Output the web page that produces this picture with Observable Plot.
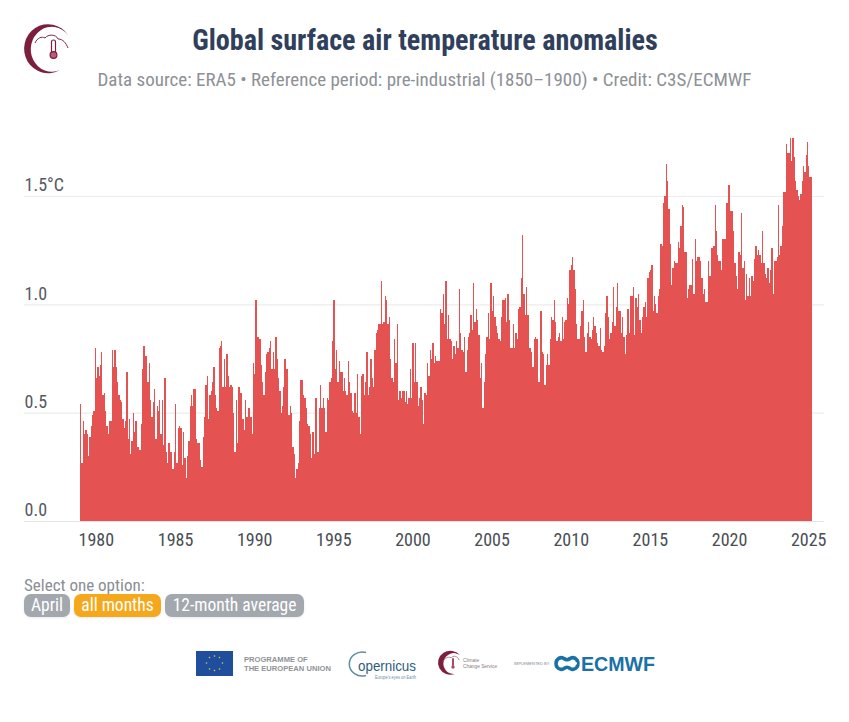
<!DOCTYPE html>
<html><head><meta charset="utf-8">
<script src="https://cdn.jsdelivr.net/npm/d3@7"></script>
<script src="https://cdn.jsdelivr.net/npm/@observablehq/plot@0.6"></script>
<style>
html,body{margin:0;padding:0;background:#fff}
body{width:849px;height:722px;position:relative;overflow:hidden;font-family:Roboto,sans-serif;font-stretch:condensed}
#header{height:110px;position:relative}
#title{position:absolute;left:0;width:849px;top:23px;text-align:center;font-size:29px;font-weight:700;color:#2f3f5c;line-height:34px;white-space:nowrap}
#title span,#sub span{display:inline-block}
#title span{transform:scaleX(.97)}
#sub{position:absolute;left:0;width:849px;top:68px;text-align:center;font-size:19px;color:#8d9196;line-height:24px;white-space:nowrap}
#chart svg{display:block}
#chart text{font-family:Roboto,sans-serif;font-stretch:condensed}
#select{position:absolute;left:24px;top:575px;font-size:17px;color:#8a8e94;line-height:20px;white-space:nowrap}
.btn{position:absolute;top:594px;height:23px;border-radius:7px;background:#a3a7ae;color:#fff;font-size:17.5px;line-height:23px;text-align:center;white-space:nowrap;box-shadow:0 1px 3px rgba(0,0,0,.08)}
.btn.on{background:#f6a81c}
#logo{position:absolute;left:0;top:0;font-stretch:normal}
</style></head>
<body>
<div id="header">
  <div id="title"><span>Global surface air temperature anomalies</span></div>
  <div id="sub"><span>Data source: ERA5 • Reference period: pre-industrial (1850–1900) • Credit: C3S/ECMWF</span></div>
</div>
<div id="chart"></div>
<div id="select">Select one option:</div>
<div class="btn" style="left:24px;width:46px"><span>April</span></div>
<div class="btn on" style="left:74px;width:87px"><span>all months</span></div>
<div class="btn" style="left:165px;width:139px"><span>12-month average</span></div>
<svg id="logo" width="849" height="722" style="pointer-events:none">
  <path d="M68 35 A24 24.5 0 1 0 60 70 A21 22.5 0 1 1 68 35Z" fill="#7d1f3c"/>
  <path d="M35 43 C37 38 42 36 45 38 C48 34 56 34 58 39 C63 39 66 43 68 48" fill="none" stroke="#7d2a44" stroke-width="1"/>
  <rect x="51.5" y="40" width="4" height="14" rx="2" fill="#fff" stroke="#7d1f3c" stroke-width="1.2"/>
  <circle cx="53.5" cy="55" r="3.4" fill="#b85c78" stroke="#7d1f3c" stroke-width="1.2"/>
  <!-- footer logos -->
  <rect x="196" y="651" width="37" height="25" fill="#1f4f9c"/>
  <g fill="#e3c84a"><circle cx="214.5" cy="656" r=".8"/><circle cx="219.5" cy="657.5" r=".8"/><circle cx="222.5" cy="663" r=".8"/><circle cx="219.5" cy="669" r=".8"/><circle cx="214.5" cy="670.5" r=".8"/><circle cx="209.5" cy="669" r=".8"/><circle cx="206.5" cy="663" r=".8"/><circle cx="209.5" cy="657.5" r=".8"/></g>
  <text x="244" y="662" font-size="7.6" font-weight="700" fill="#8f9398" font-family="Liberation Sans">PROGRAMME OF</text>
  <text x="244" y="671" font-size="7.6" font-weight="700" fill="#8f9398" font-family="Liberation Sans">THE EUROPEAN UNION</text>
  <path d="M366 652.5 A13 12 0 1 0 366 675.5" fill="none" stroke="#5d8ca8" stroke-width="1.5"/>
  <text x="358" y="670.5" font-size="14.5" fill="#2d5e7e" font-family="Liberation Sans" textLength="58" lengthAdjust="spacingAndGlyphs">opernicus</text>
  <text x="375" y="678.5" font-size="4.5" fill="#6f8ea3" font-family="Liberation Sans" textLength="41" lengthAdjust="spacingAndGlyphs">Europe's eyes on Earth</text>
  <path d="M460 655 A12.5 12 0 1 0 455 674 A10.5 10.5 0 1 1 460 655Z" fill="#7d1f3c"/>
  <path d="M443 662 C444 658 449 656 451 658 C453 655 458 656 459 660" fill="none" stroke="#9a5a70" stroke-width=".7"/>
  <rect x="452" y="658" width="2" height="8" rx="1" fill="#a64a68"/><circle cx="453" cy="667" r="1.7" fill="#a64a68"/>
  <text x="463" y="662" font-size="4.8" fill="#8d7a80" font-family="Liberation Sans">Climate</text>
  <text x="463" y="668" font-size="4.8" fill="#8d7a80" font-family="Liberation Sans">Change Service</text>
  <text x="514" y="665" font-size="4" fill="#7d8a94" font-family="Liberation Sans">IMPLEMENTED BY</text>
  <g fill="none" stroke="#1a71a5" stroke-width="3.6"><path d="M564 658.5 Q560 656 557 660 Q555 663.5 557 667 Q560 671 564 668.5 Q567 666 570 668.5 Q574 671 577 667 Q579 663.5 577 660 Q574 656 570 658.5 Q567 661 564 658.5Z"/></g>
  <rect x="558" y="662.4" width="19" height="2" fill="#fff"/>
  <text x="581" y="671" font-size="20" font-weight="700" fill="#1a71a5" font-family="Liberation Sans" textLength="74" lengthAdjust="spacingAndGlyphs">ECMWF</text>
</svg>
<script>
// Monthly anomalies (°C), Jan 1979 onward
const values1979to1989 = [
 .54,.27,.46,.40,.42,.40,.30,.39,.44,.49,.51,.80,
 .66,.71,.67,.72,.78,.58,.59,.51,.44,.40,.46,.46,
 .79,.71,.79,.71,.64,.58,.56,.55,.47,.43,.46,.69,
 .38,.47,.31,.37,.50,.41,.46,.34,.34,.33,.45,.70,
 .81,.76,.76,.64,.73,.56,.48,.55,.61,.38,.53,.51,
 .56,.40,.56,.35,.66,.32,.27,.36,.32,.32,.24,.32,
 .54,.27,.43,.44,.43,.26,.41,.29,.20,.30,.37,.53,
 .58,.53,.61,.61,.38,.36,.36,.28,.25,.39,.48,.63,
 .67,.47,.58,.60,.64,.71,.58,.52,.51,.80,.81,.83,
 .62,.75,.62,.77,.67,.62,.63,.62,.50,.32,.56,.36,
 .62,.59,.59,.47,.42,.56,.48,.52,.52,.48,.40,.73];
const values1990to1999 = [
 .68,1.02,.85,.85,.84,.72,.64,.58,.69,.77,.78,.80,
 .83,.70,.78,.70,.85,.75,.66,.60,.50,.53,.62,.75,
 .70,.70,.49,.53,.50,.34,.31,.20,.24,.27,.46,.65,
 .65,.58,.57,.52,.45,.44,.40,.29,.41,.31,.57,.57,
 .32,.52,.63,.52,.57,.52,.41,.57,.56,.64,.66,.83,
 1.02,.70,.79,.64,.74,.69,.69,.60,.66,.60,.58,.74,
 .64,.59,.51,.50,.59,.50,.68,.48,.40,.67,.68,.58,
 .64,.78,.58,.62,.75,.66,.62,.79,.87,.88,.91,.91,
 1.11,.91,.92,1.04,1.02,.91,.94,.75,.66,.64,.84,.73,
 .91,.56,.60,.57,.60,.60,.55,.60,.54,.57,.70,.57];
const values2000to2009 = [
 .82,.64,.82,.64,.53,.57,.62,.56,.45,.59,.58,.73,
 .67,.79,.75,.82,.73,.76,.74,.74,.74,.98,.96,1.05,
 .91,1.11,.84,.95,.84,.83,.75,.81,.77,.83,.80,1.07,
 .87,.79,.78,.85,.69,.79,.85,.87,.95,.88,1.10,.92,
 .98,.93,.86,.66,.73,.52,.64,.77,.85,.96,.84,1.10,
 .97,1.04,.94,.90,.87,.84,.83,.94,1.02,1.02,1.03,.92,
 1.05,.93,.80,.80,.91,.80,.87,.84,.98,.99,1.12,1.32,
 1.05,.95,1.08,.95,.80,.80,.78,.71,.84,.85,.84,.64,
 .64,.97,.78,.77,.63,.72,.77,.72,.84,.94,.93,1.02,
 .92,.83,.85,.87,.83,.94,.84,.92,.93,1.03,1.00,1.16];
const values2010to2019 = [
 1.18,1.22,1.16,1.07,.91,.84,.84,.90,.97,1.02,.85,.78,
 .87,.92,.85,.84,.88,.94,.90,.87,.82,.81,.89,.79,
 .78,.81,.96,1.04,.94,.84,.87,.92,1.08,.90,.99,1.10,
 .97,.97,.87,.94,.85,.77,.86,.98,.87,1.04,1.04,1.08,
 .86,1.03,.99,1.05,.93,.87,.94,.99,1.01,.94,1.12,1.15,
 1.16,1.18,.97,1.04,1.00,.96,1.04,1.07,1.28,1.27,1.47,1.50,
 1.65,1.57,1.44,1.28,1.09,1.17,1.20,1.19,1.19,1.29,1.26,1.36,
 1.46,1.45,1.24,1.24,1.03,1.07,1.09,1.09,1.21,1.05,1.30,1.20,
 1.22,1.22,1.20,1.12,1.05,1.07,1.01,1.01,1.20,1.13,1.26,1.26,
 1.27,1.46,1.34,1.23,1.20,1.20,1.16,1.30,1.30,1.30,1.47,1.55];
const values2020to2025 = [
 1.55,1.43,1.43,1.34,1.19,1.13,1.07,1.24,1.23,1.42,1.17,1.20,
 1.02,1.14,1.04,1.12,1.04,1.13,1.11,1.21,1.27,1.23,1.25,1.23,
 1.19,1.34,1.19,1.14,1.12,1.17,1.10,1.16,1.26,1.05,1.20,1.20,
 1.22,1.46,1.23,1.27,1.36,1.52,1.52,1.74,1.70,1.70,1.77,1.66,
 1.77,1.68,1.57,1.53,1.50,1.48,1.51,1.57,1.64,1.61,1.69,1.75,
 1.64,1.59,1.59];
const anomalies = [...values1979to1989,...values1990to1999,...values2000to2009,...values2010to2019,...values2020to2025];
const xTicks = [1980,1985,1990,1995,2000,2005,2010,2015,2020,2025];
const yTicks = [0,0.5,1,1.5];
const gridLines = [0.5,1,1.5];
const startYear = 1979;
const rows = anomalies.map((value,i)=>({start:startYear+i/12,end:startYear+(i+1)/12,value}));

const chart = Plot.plot({
  width:849,height:450,marginLeft:24,marginRight:25,marginTop:21,marginBottom:39,
  style:{background:"transparent",overflow:"visible"},
  x:{domain:[1975.46,2026]},
  y:{domain:[0,1.8]},
  marks:[
    Plot.ruleY(gridLines,{stroke:"#ececec",strokeWidth:1.2}),
    Plot.rectY(rows,{x1:"start",x2:"end",y1:0,y2:"value",fill:"#e45351",shapeRendering:"crispEdges"}),
    Plot.ruleY([0],{stroke:"#e4e4e4",strokeWidth:1.2}),
    Plot.axisX({ticks:xTicks,tickFormat:d=>String(d),tickSize:0,tickPadding:12,label:null,fontSize:18,fill:"#4a4e54"}),
    Plot.axisY({ticks:yTicks,anchor:"left",tickSize:0,tickPadding:0,textAnchor:"start",dy:-11,label:null,fontSize:18,fill:"#55595f",tickFormat:d=>d===1.5?"1.5°C":d.toFixed(1)})
  ]
});
document.getElementById("chart").appendChild(chart);
</script>
</body></html>
